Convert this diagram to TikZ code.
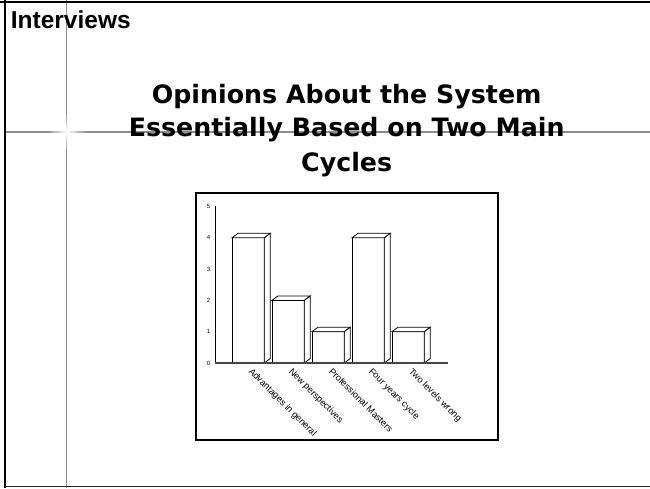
\documentclass[tikz,border=0pt]{standalone}
\usepackage{fontspec}
\setmainfont{Liberation Sans}
\newfontfamily\titlefont{DejaVu Sans}
\usetikzlibrary{fadings}
\tikzfading[name=glowfade, inner color=transparent!0, outer color=transparent!100]
\definecolor{guidegray}{RGB}{140,140,140}
\definecolor{axisgray}{RGB}{70,70,70}
\tikzset{
  frameline/.style={line width=2pt, black},
  guideline/.style={line width=1.3pt, guidegray},
  barline/.style={line width=0.8pt, black, fill=white, line join=miter},
  catlabel/.style={font=\fontsize{9.2}{10}\selectfont, rotate=-45, anchor=north west, inner sep=0pt},
  ticklabel/.style={font=\fontsize{6}{7}\selectfont, inner sep=0pt},
  titleline/.style={font=\titlefont\bfseries\fontsize{25.3}{30}\selectfont, anchor=base, inner sep=0pt},
}
\begin{document}
\begin{tikzpicture}[x=1pt,y=-1pt]
\useasboundingbox (0,0) rectangle (650,488);
\fill[white] (0,0) rectangle (650,488);
% guide lines
\draw[guideline] (66.7,0) -- (66.7,488);
\draw[guideline] (5,132) -- (650,132);
\fill[white, path fading=glowfade] (66.7,132) circle (20);
% slide frame
\draw[frameline] (0,1.5) -- (650,1.5);
\draw[frameline] (5,0) -- (5,488);
\draw[line width=1.2pt, black!85] (5,486.8) -- (650,486.8);
% header and title
\node[anchor=base west, inner sep=0pt, font=\bfseries\fontsize{24.5}{28}\selectfont] (hdr) at (10.7,28) {Interviews};
\node[titleline] (title1) at (346.7,103.3) {Opinions About the System};
\node[titleline] (title2) at (346.7,136.8) {Essentially Based on Two Main};
\node[titleline] (title3) at (346.7,171.5) {Cycles};
% chart box
\draw[line width=1.3pt, black] (196,193) rectangle (498,440);
% axes
\draw[line width=1pt, black] (215,206) -- (215,363);
% tick labels
\foreach \v in {0,...,5} {
  \node[ticklabel] (tick\v) at (208.5,{363-31.3*\v}) {\v};
}
% bars
\foreach \i/\v in {0/4,1/2,2/1,3/4,4/1} {
  \pgfmathsetmacro\xl{232+40*\i}
  \pgfmathsetmacro\xr{\xl+32.3}
  \pgfmathsetmacro\yt{363-31.3*\v}
  \draw[barline] (\xl,363) rectangle (\xr,\yt);
  \draw[barline] (\xl,\yt) -- ++(6,-4.5) -- ++(32.3,0) -- (\xr,\yt) -- cycle;
  \draw[barline] (\xr,\yt) -- ++(6,-4.5) -- (\xr+6,358.5) -- (\xr,363) -- cycle;
}
\draw[line width=1.4pt, axisgray] (215,363) -- (448,363);
% category labels
\node[catlabel] (lab1) at (253,367) {Advantages in general};
\node[catlabel] (lab2) at (293,367) {New perspectives};
\node[catlabel] (lab3) at (333,367) {Professional Masters};
\node[catlabel] (lab4) at (373,367) {Four years cycle};
\node[catlabel] (lab5) at (413,367) {Two levels wrong};
\end{tikzpicture}
\end{document}
